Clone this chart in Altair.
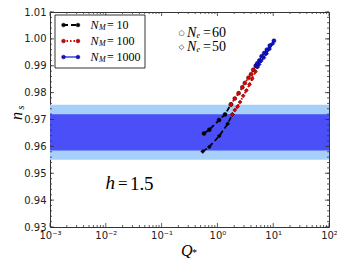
import altair as alt
import pandas as pd

# ---------------- data ----------------
# N_e = 60 (upper curve)
Q60_10 = [0.575, 0.716, 1.07, 1.37, 1.75]
NS60_10 = [0.9648, 0.9662, 0.9698, 0.9719, 0.9756]
Q60_100 = [1.75, 2.05, 2.4, 2.8, 3.1, 3.6, 4.0, 4.4, 4.9]
NS60_100 = [0.9756, 0.9778, 0.9798, 0.9820, 0.9836, 0.9855, 0.9868, 0.9885, 0.9900]
Q60_1000 = [4.9, 5.2, 5.65, 6.2, 6.9, 7.7, 8.7, 10.3]
NS60_1000 = [0.9900, 0.9909, 0.9920, 0.9935, 0.9947, 0.9960, 0.9975, 0.9993]
# N_e = 50 (lower curve)
Q50_10 = [0.546, 0.716, 1.08, 1.53, 1.85]
NS50_10 = [0.9581, 0.9598, 0.9639, 0.9684, 0.9719]
Q50_100 = [1.85, 2.05, 2.3, 2.55, 2.9, 3.3, 3.75, 4.2, 4.8, 5.2]
NS50_100 = [0.9719, 0.9735, 0.9748, 0.9765, 0.9788, 0.9808, 0.9830, 0.9852, 0.9878, 0.9895]
Q50_1000 = [5.2, 5.6, 6.1, 6.8, 7.6, 8.6, 9.8]
NS50_1000 = [0.9895, 0.9905, 0.9918, 0.9930, 0.9945, 0.9962, 0.9982]

BAND_LO = [0.9550, 0.9585]
BAND_HI = [0.9755, 0.9720]
BAND_COLORS = ["#a6d0fa", "#4a4ff7"]

X_MAJOR = [1e-3, 1e-2, 1e-1, 1e0, 1e1, 1e2]
X_LABELS = ["10\u207b\u00b3", "10\u207b\u00b2", "10\u207b\u00b9", "10\u2070", "10\u00b9", "10\u00b2"]
Y_MAJOR = [0.93, 0.94, 0.95, 0.96, 0.97, 0.98, 0.99, 1.00, 1.01]
X_MINOR = [m * 10 ** d for d in range(-3, 2) for m in range(2, 10)]
Y_MINOR = [round(0.93 + 0.002 * i, 3) for i in range(41)]

NM_LABELS = ["10", "100", "1000"]
NM_COLORS = ["#000000", "#e00000", "#1010e0"]

# ---------------- build frames ----------------
rows = []
for ne, sets in [(60, [(Q60_10, NS60_10, "10"), (Q60_100, NS60_100, "100"), (Q60_1000, NS60_1000, "1000")]),
                 (50, [(Q50_10, NS50_10, "10"), (Q50_100, NS50_100, "100"), (Q50_1000, NS50_1000, "1000")])]:
    for qs, ns, nm in sets:
        for q, n in zip(qs, ns):
            rows.append({"Q": q, "ns": n, "NM": nm, "Ne": str(ne)})
df = pd.DataFrame(rows)
bands = pd.DataFrame({"lo": BAND_LO, "hi": BAND_HI, "c": BAND_COLORS})

W, H = 279, 215
xscale = alt.Scale(type="log", domain=[1e-3, 1e2], nice=False)
yscale = alt.Scale(domain=[0.93, 1.01], nice=False, zero=False)
label_expr = "[" + ",".join("'%s'" % s for s in X_LABELS) + "][round(log(datum.value)/LN10)+3]"
xaxis = alt.Axis(values=X_MAJOR, labelExpr=label_expr, ticks=False, domain=False, grid=False,
                 title=None, labelFont="DejaVu Sans", labelFontSize=10, labelPadding=3,
                 labelColor="#222", labelFlush=False, labelOverlap=False)
yaxis = alt.Axis(values=Y_MAJOR, format=".2f", ticks=False, domain=False, grid=False,
                 title=None, labelFont="DejaVu Sans", labelFontSize=10, labelPadding=4,
                 labelColor="#222", labelOverlap=False)


def X(f="Q"):
    return alt.X(f + ":Q", scale=xscale, axis=xaxis)


def Y(f="ns"):
    return alt.Y(f + ":Q", scale=yscale, axis=yaxis)


layers = []
layers.append(alt.Chart(bands).mark_rect().encode(
    x=alt.value(0), x2=alt.value(W), y=Y("lo"), y2="hi:Q",
    color=alt.Color("c:N", scale=None)))

styles = {"10": dict(strokeDash=[5, 3], strokeWidth=1.8),
          "100": dict(strokeDash=[1.5, 2], strokeWidth=1.8),
          "1000": dict(strokeWidth=1.2)}
edge = {"10": "#000000", "100": "#400000", "1000": "#000040"}
for nm, col in zip(NM_LABELS, NM_COLORS):
    sub = df[df.NM == nm]
    layers.append(alt.Chart(sub).mark_line(color=col, **styles[nm]).encode(
        x=X(), y=Y(), detail="Ne:N", order="Q:Q"))
for nm, col in zip(NM_LABELS, NM_COLORS):
    sub = df[df.NM == nm]
    layers.append(alt.Chart(sub).mark_point(filled=True, size=16, fill=col, stroke=edge[nm],
                                            strokeWidth=0.5, opacity=1).encode(
        x=X(), y=Y(),
        shape=alt.Shape("Ne:N", scale=alt.Scale(domain=["60", "50"], range=["circle", "diamond"]), legend=None)))

# ticks (inward)
tc = "#333"
xmaj = pd.DataFrame({"Q": X_MAJOR})
xmin = pd.DataFrame({"Q": X_MINOR})
ymaj = pd.DataFrame({"ns": Y_MAJOR})
ymin = pd.DataFrame({"ns": Y_MINOR})
for d, L in [(xmaj, 4), (xmin, 2)]:
    layers.append(alt.Chart(d).mark_rule(color=tc, strokeWidth=0.8).encode(x=X(), y=alt.value(H), y2=alt.value(H - L)))
    layers.append(alt.Chart(d).mark_rule(color=tc, strokeWidth=0.8).encode(x=X(), y=alt.value(0), y2=alt.value(L)))
for d, L in [(ymaj, 4), (ymin, 2)]:
    layers.append(alt.Chart(d).mark_rule(color=tc, strokeWidth=0.8).encode(y=Y(), x=alt.value(0), x2=alt.value(L)))
    layers.append(alt.Chart(d).mark_rule(color=tc, strokeWidth=0.8).encode(y=Y(), x=alt.value(W), x2=alt.value(W - L)))

one = pd.DataFrame({"a": [0]})
SERIF = "Liberation Serif"


def txt(s, x, y, size, italic=False, angle=0, align="left"):
    return alt.Chart(one).mark_text(text=s, font=SERIF, fontSize=size, fontStyle="italic" if italic else "normal",
                                    align=align, baseline="middle", angle=angle, color="#000").encode(
        x=alt.value(x), y=alt.value(y))


# legend box
layers.append(alt.Chart(one).mark_rect(fill="white", stroke="#000", strokeWidth=0.8).encode(
    x=alt.value(5), x2=alt.value(95), y=alt.value(3), y2=alt.value(56)))
leg_y = [13, 29, 45]
for nm, col, yy in zip(NM_LABELS, NM_COLORS, leg_y):
    layers.append(alt.Chart(one).mark_rule(color=col, **styles[nm]).encode(
        x=alt.value(13), x2=alt.value(28.5), y=alt.value(yy)))
    for xx in (13.5, 28):
        layers.append(alt.Chart(one).mark_point(filled=True, size=14, fill=col, stroke=edge[nm],
                                                strokeWidth=0.5, opacity=1).encode(
            x=alt.value(xx), y=alt.value(yy)))
    layers.append(txt("N", 40.5, yy, 12, italic=True))
    layers.append(txt("M", 49, yy + 3, 8, italic=True))
    layers.append(txt("=", 57, yy, 12))
    layers.append(txt(nm, 66.5, yy, 12))

# N_e annotation
for ne, sym, yy in [("60", "\u25cb", 20.8), ("50", "\u25c7", 35.2)]:
    layers.append(alt.Chart(one).mark_text(text=sym, font="DejaVu Sans", fontSize=7, align="center",
                                           baseline="middle", color="#000").encode(
        x=alt.value(131.5), y=alt.value(yy)))
    layers.append(txt("N", 137, yy, 14, italic=True))
    layers.append(txt("e", 146.5, yy + 3, 8, italic=True))
    layers.append(txt("=", 153, yy, 14))
    layers.append(txt(ne, 162, yy, 14))

# h = 1.5
layers.append(txt("h", 55.5, 171, 19, italic=True))
layers.append(txt("=", 68, 172, 17))
layers.append(txt("1.", 80, 172, 19))
layers.append(txt("5", 94, 172, 19))

# axis titles
layers.append(txt("Q", 131, 239, 16, italic=True))
layers.append(txt("*", 142, 241, 10))
layers.append(txt("n", -33, 104, 16, italic=True, angle=270, align="center"))
layers.append(txt("s", -29.5, 95.5, 10, italic=True, angle=270, align="center"))

chart = alt.layer(*layers).properties(
    width=W, height=H,
    autosize=alt.AutoSizeParams(type="none"),
    padding={"left": 42, "top": 4, "right": 8, "bottom": 31},
).configure_view(stroke="#333", strokeWidth=1)

chart.save("out.html", embed_options={"renderer": "svg", "actions": False})
